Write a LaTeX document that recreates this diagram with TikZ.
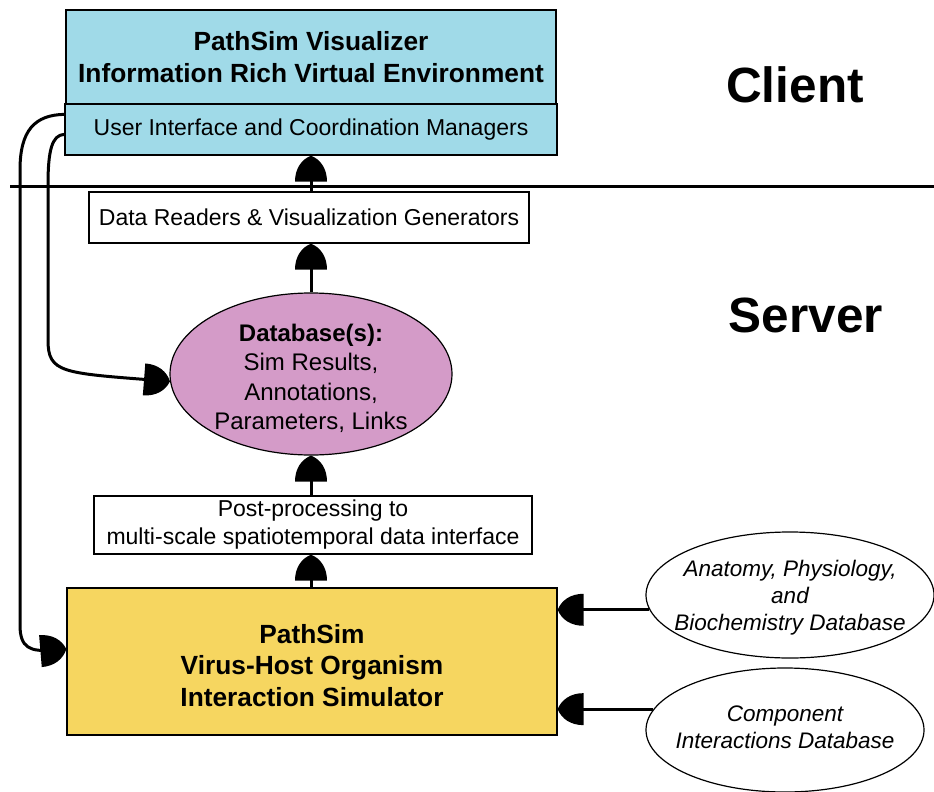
\documentclass[tikz,border=0pt]{standalone}
\usepackage{fontspec}
\setmainfont{Liberation Sans}
\usetikzlibrary{shapes.geometric,arrows.meta}
\definecolor{visblue}{HTML}{A0DAE8}
\definecolor{dbpink}{HTML}{D49BC8}
\definecolor{simyellow}{HTML}{F6D660}
\pgfdeclarearrow{
  name = Bell,
  parameters = {\the\pgfarrowlength,\the\pgfarrowwidth},
  setup code = {
    \pgfarrowssettipend{\pgfarrowlength}
    \pgfarrowssetbackend{0pt}
    \pgfarrowssetlineend{0.5\pgfarrowlength}
    \pgfarrowssavethe\pgfarrowlength
    \pgfarrowssavethe\pgfarrowwidth
  },
  drawing code = {
    \pgfpathmoveto{\pgfqpoint{0pt}{0.5\pgfarrowwidth}}
    \pgfpathcurveto{\pgfqpoint{0.5\pgfarrowlength}{0.5\pgfarrowwidth}}{\pgfqpoint{0.85\pgfarrowlength}{0.3\pgfarrowwidth}}{\pgfqpoint{\pgfarrowlength}{0pt}}
    \pgfpathcurveto{\pgfqpoint{0.85\pgfarrowlength}{-0.3\pgfarrowwidth}}{\pgfqpoint{0.5\pgfarrowlength}{-0.5\pgfarrowwidth}}{\pgfqpoint{0pt}{-0.5\pgfarrowwidth}}
    \pgfpathclose
    \pgfusepathqfill
  },
  defaults = {length = 26pt, width = 32pt}
}
\begin{document}
\begin{tikzpicture}[x=1pt,y=-1pt,
  boxst/.style={draw, line width=1.3pt, inner sep=0pt, align=center},
  ellst/.style={draw, ellipse, line width=1.2pt, inner sep=0pt, align=center},
  conn/.style={line width=3pt, -{Bell}},
  bigbold/.style={font=\fontsize{26.3}{31.5}\selectfont\bfseries},
  reg/.style={font=\fontsize{23}{28}\selectfont},
  itl/.style={font=\fontsize{22.5}{27}\selectfont\itshape, align=center},
  side/.style={font=\fontsize{49.5}{55}\selectfont\bfseries}
]
\useasboundingbox (0,0) rectangle (934,792);
% nodes
\node[boxst, fill=visblue, minimum width=490pt, minimum height=94pt, bigbold] (vis) at (311,57)
  {PathSim Visualizer\\Information Rich Virtual Environment};
\node[boxst, fill=visblue, minimum width=492pt, minimum height=51pt, reg] (ui) at (311,129.5)
  {User Interface and Coordination Managers};
\node[boxst, fill=white, minimum width=440pt, minimum height=51pt, reg] (readers) at (309,217.5)
  {Data Readers \& Visualization Generators};
\node[ellst, fill=dbpink, inner ysep=-6pt, minimum width=282pt, minimum height=162pt, font=\fontsize{24}{29.5}\selectfont] (db) at (311,374)
  {\rule{0pt}{26pt}\textbf{Database(s):}\\Sim Results,\\Annotations,\\Parameters, Links};
\node[boxst, fill=white, minimum width=438pt, minimum height=58pt, font=\fontsize{23}{28}\selectfont] (post) at (313,525)
  {Post-processing to\\multi-scale spatiotemporal data interface};
\node[boxst, fill=simyellow, minimum width=490pt, minimum height=147pt, bigbold] (sim) at (312,661.5)
  {\rule{0pt}{27pt}PathSim\\Virus-Host Organism\\Interaction Simulator};
\node[ellst, fill=white, minimum width=288pt, minimum height=126pt] (anat) at (790,595) {};
\node[itl] (anattxt) at (790,598) {Anatomy, Physiology,\\and\\Biochemistry Database};
\node[ellst, fill=white, minimum width=278pt, minimum height=124pt] (comp) at (785,730) {};
\node[itl] (comptxt) at (785,727) {Component\\Interactions Database};
\node[side] (client) at (795,85) {Client};
\node[side] (server) at (806,315) {Server};
% separator
\coordinate (sepl) at (10,186);
\coordinate (sepr) at (934,186);
\draw[line width=3pt] (sepl) -- (sepr);
% vertical connectors
\draw[conn] (readers.north -| ui.south) -- (ui.south);
\draw[conn] (db.north) -- (db.north |- readers.south);
\draw[conn] (post.north -| db.south) -- (db.south);
\draw[conn] (sim.north -| db.south) -- (db.south |- post.south);
% right connectors
\draw[conn] (anat.186) -- (anat.186 -| sim.east);
\draw[conn] (comp.171) -- (comp.171 -| sim.east);
% left feedback curves
\draw[conn] ([yshift=-11pt]ui.north west) .. controls (35,115) and (20,130) .. (20,170)
  -- (20,625) .. controls (20,648) and (30,652) .. ([yshift=12.5pt]sim.west);
\draw[conn] ([yshift=-31pt]ui.north west) .. controls (52,135) and (48,150) .. (48,185)
  -- (48,340) .. controls (48,373) and (62,373) .. (db.183);
\end{tikzpicture}
\end{document}
